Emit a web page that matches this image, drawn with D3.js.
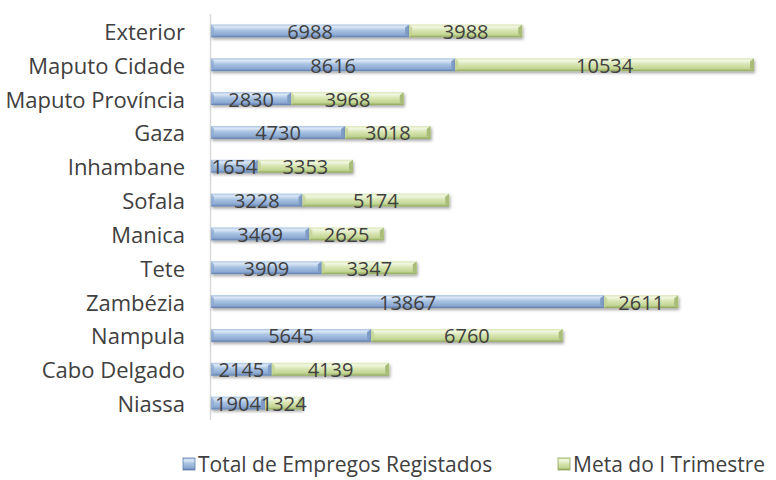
<!DOCTYPE html>
<html>
<head>
<meta charset="utf-8">
<script src="https://cdn.jsdelivr.net/npm/d3@7"></script>
<style>
  body { margin: 0; background: #fff; }
  text { font-family: "Open Sans", "Noto Sans", sans-serif; fill: #404040; }
</style>
</head>
<body>
<div id="chart"></div>
<script>
const width = 776;
const height = 480;

// provinces, top to bottom as drawn
const provinces = ["Exterior", "Maputo Cidade", "Maputo Província", "Gaza", "Inhambane", "Sofala",
  "Manica", "Tete", "Zambézia", "Nampula", "Cabo Delgado", "Niassa"];
const totalEmpregos = [6988, 8616, 2830, 4730, 1654, 3228, 3469, 3909, 13867, 5645, 2145, 1904];
const metaTrimestre = [3988, 10534, 3968, 3018, 3353, 5174, 2625, 3347, 2611, 6760, 4139, 1324];
const seriesNames = ["Total de Empregos Registados", "Meta do I Trimestre"];

const rows = provinces.map((p, i) => ({ name: p, total: totalEmpregos[i], meta: metaTrimestre[i] }));
const stack = d3.stack().keys(["total", "meta"])(rows);

const x = d3.scaleLinear()
    .domain([0, 19150])
    .range([211, 754]);

const y = d3.scaleBand()
    .domain(provinces)
    .range([14, 420])
    .paddingInner(0.62)
    .paddingOuter(0.31);

const svg = d3.select("#chart").append("svg")
    .attr("width", width)
    .attr("height", height);

const defs = svg.append("defs");

// bevel-ish colours for each series
const palettes = [
  { top: "#dce8f6", mid: "#a9c3e3", low: "#8eaad2", bot: "#5f7fae", cap: "#7f9cc6" },
  { top: "#f2f7e2", mid: "#d9e6b4", low: "#c3d593", bot: "#8ea65a", cap: "#a9bd78" }
];

palettes.forEach((c, i) => {
  const g = defs.append("linearGradient")
      .attr("id", "grad" + i)
      .attr("x1", 0).attr("y1", 0).attr("x2", 0).attr("y2", 1);
  g.append("stop").attr("offset", "0%").attr("stop-color", c.mid);
  g.append("stop").attr("offset", "18%").attr("stop-color", c.top);
  g.append("stop").attr("offset", "45%").attr("stop-color", c.mid);
  g.append("stop").attr("offset", "80%").attr("stop-color", c.low);
  g.append("stop").attr("offset", "100%").attr("stop-color", c.bot);
});

const shadow = defs.append("filter").attr("id", "shadow")
    .attr("x", "-5%").attr("y", "-30%").attr("width", "110%").attr("height", "190%");
shadow.append("feDropShadow")
    .attr("dx", 1).attr("dy", 2).attr("stdDeviation", 1.5)
    .attr("flood-color", "#000").attr("flood-opacity", 0.35);

// axis line
svg.append("line")
    .attr("x1", 210.5).attr("x2", 210.5)
    .attr("y1", 14).attr("y2", 420)
    .attr("stroke", "#d9d9d9")
    .attr("stroke-width", 1.5);

// category labels
svg.append("g")
  .selectAll("text")
  .data(provinces)
  .join("text")
    .attr("x", 185)
    .attr("y", d => y(d) + y.bandwidth() / 2 + 1)
    .attr("dy", "0.36em")
    .attr("text-anchor", "end")
    .style("font-size", "22px")
    .text(d => d);

const bh = y.bandwidth();

stack.forEach((s, si) => {
  const c = palettes[si];
  const g = svg.append("g");
  const seg = g.selectAll("g")
    .data(s)
    .join("g")
      .attr("filter", "url(#shadow)");

  seg.append("rect")
      .attr("x", d => x(d[0]))
      .attr("y", d => y(d.data.name))
      .attr("width", d => x(d[1]) - x(d[0]))
      .attr("height", bh)
      .attr("fill", `url(#grad${si})`);

  // bevelled right end
  seg.append("path")
      .attr("d", d => {
        const x1 = x(d[1]), y0 = y(d.data.name);
        return `M${x1 - 4},${y0 + 3}L${x1},${y0}L${x1},${y0 + bh}L${x1 - 4},${y0 + bh - 3}Z`;
      })
      .attr("fill", c.cap);

  // bevelled left end
  seg.append("path")
      .attr("d", d => {
        const x0 = x(d[0]), y0 = y(d.data.name);
        return `M${x0},${y0}L${x0 + 3},${y0 + 3}L${x0 + 3},${y0 + bh - 3}L${x0},${y0 + bh}Z`;
      })
      .attr("fill", c.low)
      .attr("opacity", 0.8);
});

// value labels
stack.forEach(s => {
  svg.append("g")
    .selectAll("text")
    .data(s)
    .join("text")
      .attr("x", d => (x(d[0]) + x(d[1])) / 2)
      .attr("y", d => y(d.data.name) + bh / 2)
      .attr("dy", "0.4em")
      .attr("text-anchor", "middle")
      .style("font-size", "20px")
      .text(d => d[1] - d[0]);
});

// legend
const legendX = [183, 558];
const legend = svg.append("g")
  .selectAll("g")
  .data(seriesNames)
  .join("g")
    .attr("transform", (d, i) => `translate(${legendX[i]},458)`);

legend.append("rect")
    .attr("width", 12).attr("height", 12)
    .attr("fill", (d, i) => `url(#grad${i})`)
    .attr("stroke", (d, i) => palettes[i].bot)
    .attr("stroke-width", 0.8);

legend.append("text")
    .attr("x", 15)
    .attr("y", 6)
    .attr("dy", "0.36em")
    .style("font-size", "21px")
    .text(d => d);
</script>
</body>
</html>
